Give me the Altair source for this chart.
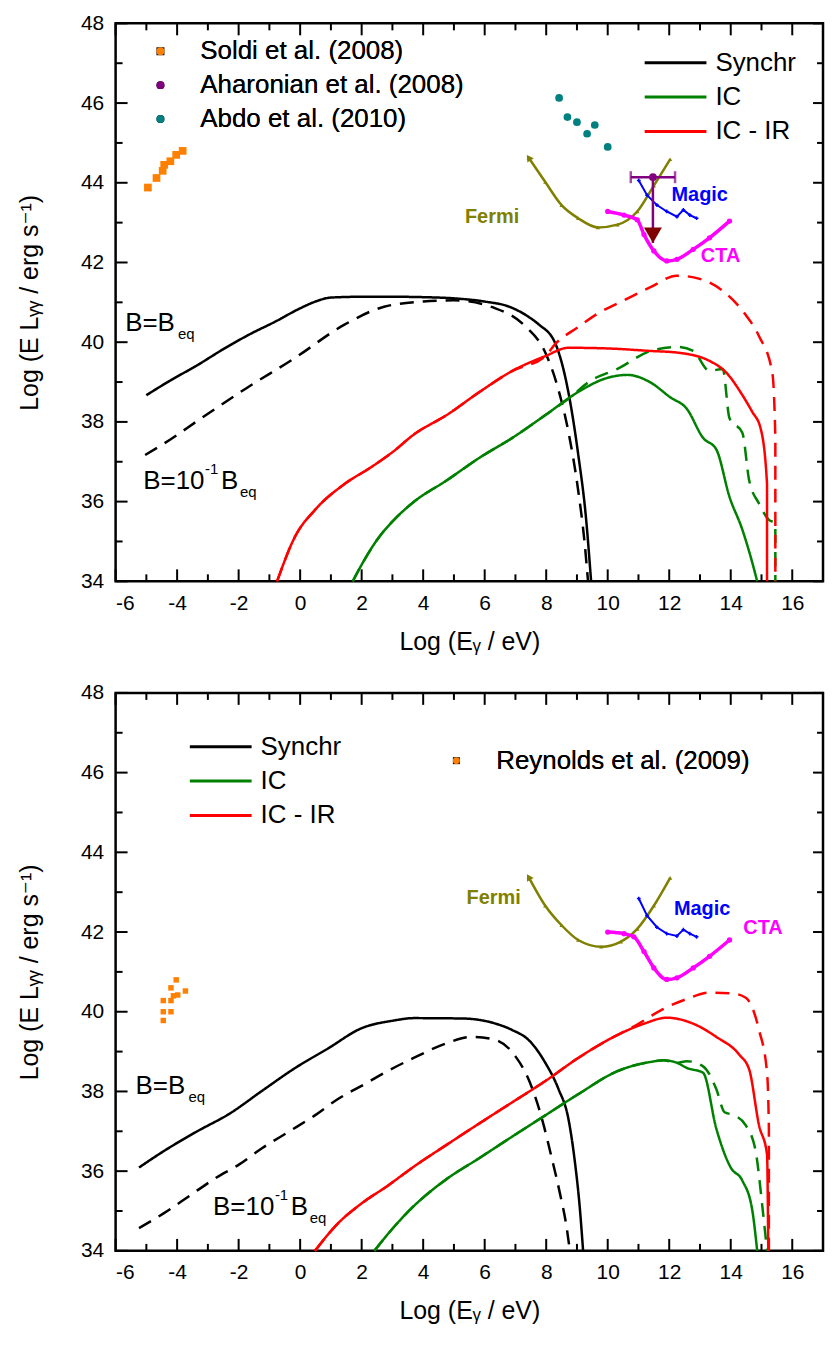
import math
import pandas as pd
import altair as alt

FONT = "Liberation Sans, Arial, DejaVu Sans, sans-serif"
W, H = 710, 560
XDOM = [-6, 17]
YDOM = [34, 48]

X_MAJOR = [-6, -4, -2, 0, 2, 4, 6, 8, 10, 12, 14, 16]
X_MINOR = [-5, -3, -1, 1, 3, 5, 7, 9, 11, 13, 15]
Y_MAJOR = [34, 36, 38, 40, 42, 44, 46, 48]
Y_MINOR = [35, 37, 39, 41, 43, 45, 47]

MODELS = ["Synchr", "IC", "IC - IR"]
MODEL_COLORS = ["#000000", "#008000", "#ff0000"]

# ---------------- top panel ----------------
T_SYN_EQ_X = [-5, -4.22, -3.37, -2.51, -1.66, -0.8, 0, 0.5, 1, 2, 3, 4, 5, 6, 6.8, 7.4, 7.75, 8.29, 8.72, 9.04, 9.30, 9.46]
T_SYN_EQ_Y = [38.67, 39.04, 39.41, 39.82, 40.19, 40.52, 40.85, 41.02, 41.12, 41.14, 41.14, 41.13, 41.1, 41.02, 40.89, 40.65, 40.45, 39.98, 38.75, 37.19, 35.54, 34.0]
T_SYN_01_X = [-5.04, -4.22, -3.37, -1.76, -0.16, 1.44, 2.73, 4.0, 5.0, 6.35, 7.32, 7.97, 8.39, 8.72, 9.04, 9.25, 9.36]
T_SYN_01_Y = [37.17, 37.56, 38.01, 38.84, 39.61, 40.44, 40.89, 41.02, 41.05, 40.85, 40.4, 39.74, 38.83, 37.76, 36.28, 34.96, 34.0]

T_IR_EQ_X = [-0.75, -0.16, 0.48, 1.44, 2.30, 3.05, 3.69, 4.76, 5.83, 6.90, 7.97, 8.72, 10.1, 11.39, 12.25, 13.31, 13.85, 14.38, 14.70, 14.97, 15.18, 15.18]
T_IR_EQ_Y = [34.0, 35.13, 35.79, 36.44, 36.86, 37.27, 37.68, 38.17, 38.75, 39.28, 39.65, 39.86, 39.84, 39.78, 39.74, 39.53, 39.24, 38.67, 38.25, 37.84, 36.44, 34.0]
T_IR_01_X = [-0.75, -0.16, 0.48, 1.44, 2.30, 3.05, 3.69, 4.76, 5.83, 6.90, 7.97, 8.29, 9.04, 9.68, 10.53, 11.39, 12.25, 12.99, 13.85, 14.49, 14.92, 15.35, 15.45, 15.45]
T_IR_01_Y = [34.0, 35.13, 35.79, 36.44, 36.86, 37.27, 37.68, 38.17, 38.75, 39.28, 39.65, 39.95, 40.38, 40.72, 41.05, 41.38, 41.67, 41.59, 41.22, 40.68, 40.15, 39.24, 37.6, 34.0]

T_IC_EQ_X = [1.71, 1.98, 2.51, 3.05, 3.69, 4.76, 5.83, 6.90, 7.97, 9.04, 9.89, 10.64, 11.39, 12.03, 12.57, 13.1, 13.53, 13.96, 14.38, 14.70, 14.86]
T_IC_EQ_Y = [34.0, 34.39, 35.05, 35.54, 35.99, 36.53, 37.1, 37.6, 38.17, 38.75, 39.08, 39.18, 38.99, 38.62, 38.33, 37.6, 37.31, 36.12, 35.29, 34.47, 34.0]
T_IC_01_X = [1.71, 1.98, 2.51, 3.05, 3.69, 4.76, 5.83, 6.90, 7.97, 8.72, 9.46, 10.32, 11.39, 12.25, 12.78, 13.31, 13.74, 13.96, 14.38, 14.6, 14.92, 15.24, 15.45, 15.45]
T_IC_01_Y = [34.0, 34.39, 35.05, 35.54, 35.99, 36.53, 37.1, 37.6, 38.17, 38.58, 39.04, 39.33, 39.78, 39.88, 39.78, 39.28, 39.33, 38.09, 37.72, 36.53, 35.95, 35.54, 35.46, 34.0]

T_FERMI_X = [7.43, 7.97, 8.5, 9.04, 9.68, 10.32, 10.96, 11.5, 12.03]
T_FERMI_Y = [44.63, 44.02, 43.44, 43.11, 42.88, 42.95, 43.28, 43.93, 44.59]
T_MAGIC_X = [11.01, 11.28, 11.6, 11.92, 12.25, 12.46, 12.67, 12.89]
T_MAGIC_Y = [44.06, 43.69, 43.44, 43.28, 43.15, 43.32, 43.19, 43.11]
T_CTA_X = [10.0, 10.53, 10.96, 11.18, 11.5, 11.92, 12.25, 12.78, 13.31, 13.96]
T_CTA_Y = [43.28, 43.19, 43.07, 42.7, 42.29, 42.04, 42.08, 42.33, 42.62, 43.04]

SOLDI_X = [-4.95, -4.67, -4.47, -4.42, -4.22, -4.03, -3.82]
SOLDI_Y = [43.88, 44.12, 44.3, 44.45, 44.54, 44.7, 44.8]
ABDO_X = [8.42, 8.69, 9.0, 9.33, 9.58, 10.0]
ABDO_Y = [46.13, 45.65, 45.52, 45.23, 45.45, 44.9]
AHA_X = [11.47]
AHA_Y = [44.14]
AHA_XLO = [10.75]
AHA_XHI = [12.19]
AHA_ULIM = [42.49]

# ---------------- bottom panel ----------------
B_SYN_EQ_X = [-5.24, -4.44, -3.37, -2.3, -1.23, -0.16, 0.91, 1.98, 3.05, 3.69, 5.29, 6.36, 6.9, 7.43, 7.97, 8.4, 8.72, 8.93, 9.09, 9.2]
B_SYN_EQ_Y = [36.09, 36.5, 36.99, 37.44, 38.02, 38.59, 39.08, 39.58, 39.78, 39.84, 39.83, 39.7, 39.54, 39.29, 38.72, 38.06, 37.32, 36.25, 35.1, 34.0]
B_SYN_01_X = [-5.24, -4.44, -3.58, -2.72, -1.98, -1.23, -0.37, 0.48, 1.23, 2.09, 2.84, 3.69, 4.76, 5.61, 6.36, 7.0, 7.43, 7.86, 8.18, 8.45, 8.66, 8.77]
B_SYN_01_Y = [34.57, 34.94, 35.39, 35.84, 36.17, 36.58, 36.99, 37.4, 37.81, 38.18, 38.51, 38.84, 39.21, 39.37, 39.29, 38.88, 38.3, 37.32, 36.33, 35.43, 34.61, 34.0]

B_IR_EQ_X = [0.48, 1.23, 1.98, 2.84, 3.69, 4.76, 5.83, 6.9, 7.97, 9.04, 10.1, 11.18, 11.92, 12.78, 13.53, 14.28, 14.6, 14.92, 15.18, 15.22]
B_IR_EQ_Y = [34.0, 34.69, 35.18, 35.63, 36.11, 36.66, 37.2, 37.73, 38.26, 38.84, 39.33, 39.7, 39.85, 39.7, 39.37, 38.92, 38.55, 37.15, 36.42, 34.0]
B_IR_01_X = [0.48, 1.23, 1.98, 2.84, 3.69, 4.76, 5.83, 6.9, 7.97, 9.04, 10.1, 10.96, 11.71, 12.57, 13.31, 14.06, 14.49, 14.92, 15.18, 15.24, 15.24]
B_IR_01_Y = [34.0, 34.69, 35.18, 35.63, 36.11, 36.66, 37.2, 37.73, 38.26, 38.84, 39.33, 39.68, 40.03, 40.32, 40.48, 40.46, 40.35, 39.54, 38.47, 37.07, 34.0]

B_IC_EQ_X = [2.41, 3.05, 3.69, 4.76, 5.83, 6.9, 7.97, 9.04, 10.32, 11.39, 11.82, 12.25, 12.57, 13.1, 13.53, 14.0, 14.38, 14.7, 14.86]
B_IC_EQ_Y = [34.0, 34.6, 35.12, 35.8, 36.33, 36.87, 37.4, 37.93, 38.51, 38.74, 38.78, 38.72, 38.59, 38.47, 37.07, 36.09, 35.76, 35.02, 34.0]
B_IC_01_X = [2.41, 3.05, 3.69, 4.76, 5.83, 6.9, 7.97, 9.04, 10.32, 11.39, 11.82, 12.25, 12.57, 13.1, 13.53, 13.8, 14.12, 14.49, 14.81, 15.03, 15.18]
B_IC_01_Y = [34.0, 34.6, 35.12, 35.8, 36.33, 36.87, 37.4, 37.93, 38.51, 38.74, 38.78, 38.72, 38.76, 38.63, 38.06, 37.48, 37.4, 37.15, 36.5, 35.1, 34.0]

B_FERMI_X = [7.43, 7.97, 8.5, 9.04, 9.79, 10.43, 10.96, 11.5, 12.03]
B_FERMI_Y = [43.38, 42.66, 42.17, 41.8, 41.63, 41.76, 42.08, 42.66, 43.36]
B_MAGIC_X = [11.01, 11.28, 11.6, 11.92, 12.25, 12.46, 12.67, 12.89]
B_MAGIC_Y = [42.84, 42.41, 42.12, 41.96, 41.9, 42.06, 41.96, 41.88]
B_CTA_X = [10.0, 10.53, 10.85, 11.18, 11.5, 11.92, 12.25, 12.78, 13.31, 13.96]
B_CTA_Y = [42.0, 41.96, 41.88, 41.51, 41.1, 40.81, 40.85, 41.1, 41.39, 41.8]

REYN_X = [-4.45, -4.45, -4.2, -4.45, -4.2, -4.2, -4.03, -4.12, -3.98, -3.73]
REYN_Y = [39.78, 40.0, 40.0, 40.28, 40.28, 40.6, 40.8, 40.4, 40.42, 40.52]

# ---------------- helpers ----------------
OLIVE, BLUE, MAGENTA = "#808000", "#0000ff", "#ff00ff"
PURPLE, MAROON = "#800080", "#800000"

xscale = alt.Scale(domain=XDOM, nice=False, zero=False)
yscale = alt.Scale(domain=YDOM, nice=False, zero=False)

AX_LAB = alt.Axis(values=X_MAJOR, labelExpr="'' + datum.value", ticks=False, tickSize=0, orient="bottom",
                  domain=False, grid=False, labelFontSize=21, labelFont=FONT, labelColor="black",
                  labelPadding=11, title="Log (Eᵧ / eV)", titleFont=FONT, titleFontSize=25,
                  titleFontWeight="normal", titleColor="black", titlePadding=16)
AY_LAB = alt.Axis(values=Y_MAJOR, labelExpr="'' + datum.value", ticks=False, tickSize=0, orient="left",
                  domain=False, grid=False, labelFontSize=21, labelFont=FONT, labelColor="black",
                  labelPadding=12, title="Log (E Lᵧᵧ / erg s⁻¹)", titleFont=FONT, titleFontSize=25,
                  titleFontWeight="normal", titleColor="black", titlePadding=38)


def X(field="x", axis=None):
    return alt.X(f"{field}:Q", scale=xscale, axis=axis)


def Y(field="y", axis=None):
    return alt.Y(f"{field}:Q", scale=yscale, axis=axis)


def series(xs, ys, **kw):
    d = pd.DataFrame({"x": xs, "y": ys, "i": list(range(len(xs)))})
    for k, v in kw.items():
        d[k] = v
    return d


def line_legend(lx, ly):
    return alt.Legend(title=None, orient="none", legendX=lx, legendY=ly,
                      symbolType="M-2,0L2,0", symbolSize=961, symbolStrokeWidth=3,
                      symbolOffset=14, labelOffset=23, labelFont=FONT, labelFontSize=26,
                      labelColor="black", labelLimit=400, rowPadding=4.5, padding=0)


def point_legend(lx, ly, size):
    return alt.Legend(title=None, orient="none", legendX=lx, legendY=ly, symbolSize=size,
                      labelOffset=27, labelFont=FONT, labelFontSize=26, labelColor="black",
                      labelLimit=400, rowPadding=8, padding=0, symbolOpacity=1,
                      symbolStrokeWidth=0)


def model_layer(parts, lx, ly):
    df = pd.concat([series(xs, ys, model=m, case=c) for xs, ys, m, c in parts], ignore_index=True)
    return alt.Chart(df).mark_line(strokeWidth=2.5, interpolate="monotone").encode(
        x=X(axis=AX_LAB), y=Y(axis=AY_LAB),
        color=alt.Color("model:N", scale=alt.Scale(domain=MODELS, range=MODEL_COLORS),
                        legend=line_legend(lx, ly)),
        strokeDash=alt.StrokeDash("case:N", scale=alt.Scale(domain=["eq", "tenth"],
                                  range=[[1, 0], [14, 9]]), legend=None),
        order=alt.Order("i:Q"),
    )


def arrow_angle(xs, ys):
    dxp = (xs[0] - xs[1]) * W / (XDOM[1] - XDOM[0])
    dyp = (ys[0] - ys[1]) * H / (YDOM[1] - YDOM[0])
    return math.degrees(math.atan2(dxp, dyp)) % 360


def sens_layers(fx, fy, mx, my, cx, cy):
    fdf, mdf, cdf = series(fx, fy), series(mx, my), series(cx, cy)
    return [
        alt.Chart(fdf).mark_line(color=OLIVE, strokeWidth=2.5, interpolate="monotone").encode(
            x=X(), y=Y(), order="i:Q"),
        alt.Chart(fdf).mark_point(shape="triangle-up", filled=True, color=OLIVE, size=18, opacity=1).encode(
            x=X(), y=Y()),
        alt.Chart(fdf.iloc[[0]]).mark_point(shape="triangle-up", filled=True, color=OLIVE, size=60, opacity=1,
                                             angle=arrow_angle(fx, fy)).encode(x=X(), y=Y()),
        alt.Chart(mdf).mark_line(color=BLUE, strokeWidth=2).encode(x=X(), y=Y(), order="i:Q"),
        alt.Chart(mdf).mark_point(shape="cross", filled=True, color=BLUE, size=14, opacity=1).encode(
            x=X(), y=Y()),
        alt.Chart(cdf).mark_line(color=MAGENTA, strokeWidth=3.5, interpolate="monotone").encode(
            x=X(), y=Y(), order="i:Q"),
        alt.Chart(cdf).mark_point(shape="circle", filled=True, color=MAGENTA, size=28, opacity=1).encode(
            x=X(), y=Y()),
    ]


def txt(x, y, s, size, color="black", weight="normal", dx=0, dy=0, align="left", baseline="alphabetic"):
    df = pd.DataFrame({"x": [x], "y": [y], "t": [s]})
    return alt.Chart(df).mark_text(font=FONT, fontSize=size, fontWeight=weight, color=color, dx=dx, dy=dy,
                                   align=align, baseline=baseline).encode(x=X(), y=Y(), text="t:N")


def b_labels(x1, y1, x2, y2):
    return [
        txt(x1, y1, "B=B", 26), txt(x1, y1, "eq", 15, dx=53, dy=8),
        txt(x2, y2, "B=10", 26), txt(x2, y2, "-1", 15, dx=62, dy=-15),
        txt(x2, y2, "B", 26, dx=78), txt(x2, y2, "eq", 15, dx=97, dy=8),
    ]


def inst_labels(f, m, c):
    return [
        txt(f[0], f[1], "Fermi", 20, OLIVE, "bold", align="center", baseline="middle"),
        txt(m[0], m[1], "Magic", 20, BLUE, "bold", align="center", baseline="middle"),
        txt(c[0], c[1], "CTA", 20, MAGENTA, "bold", align="center", baseline="middle"),
    ]


def tick_layers():
    # inward-pointing frame ticks, drawn as short segments at the tick values;
    # tick lengths (in px) are converted to data units of each scale
    ux = (XDOM[1] - XDOM[0]) / W
    uy = (YDOM[1] - YDOM[0]) / H
    out = []
    for vals, L in ((X_MAJOR, 12), (X_MINOR, 7)):
        d = pd.DataFrame({"x": vals})
        d["b0"], d["b1"] = YDOM[0], YDOM[0] + L * uy
        d["t0"], d["t1"] = YDOM[1] - L * uy, YDOM[1]
        out.append(alt.Chart(d).mark_rule(color="black", strokeWidth=2).encode(x=X(), y=Y("b0"), y2="b1"))
        out.append(alt.Chart(d).mark_rule(color="black", strokeWidth=2).encode(x=X(), y=Y("t0"), y2="t1"))
    for vals, L in ((Y_MAJOR, 12), (Y_MINOR, 7)):
        Lr = round(L * 0.85)
        d = pd.DataFrame({"y": vals})
        d["l0"], d["l1"] = XDOM[0], XDOM[0] + L * ux
        d["r0"], d["r1"] = XDOM[1] - Lr * ux, XDOM[1]
        out.append(alt.Chart(d).mark_rule(color="black", strokeWidth=2).encode(x=X("l0"), x2="l1", y=Y()))
        out.append(alt.Chart(d).mark_rule(color="black", strokeWidth=2).encode(x=X("r0"), x2="r1", y=Y()))
    return out


# ---------------- top panel ----------------
top_models = model_layer([
    (T_SYN_EQ_X, T_SYN_EQ_Y, "Synchr", "eq"), (T_SYN_01_X, T_SYN_01_Y, "Synchr", "tenth"),
    (T_IC_EQ_X, T_IC_EQ_Y, "IC", "eq"), (T_IC_01_X, T_IC_01_Y, "IC", "tenth"),
    (T_IR_EQ_X, T_IR_EQ_Y, "IC - IR", "eq"), (T_IR_01_X, T_IR_01_Y, "IC - IR", "tenth"),
], 531, 22.5)

TOP_SRC = ["Soldi et al. (2008)", "Aharonian et al. (2008)", "Abdo et al. (2010)"]
top_pts_df = pd.concat([
    series(SOLDI_X, SOLDI_Y, src=TOP_SRC[0]),
    series(AHA_X, AHA_Y, src=TOP_SRC[1]),
    series(ABDO_X, ABDO_Y, src=TOP_SRC[2]),
], ignore_index=True)
tleg = point_legend(32, 15, 64)
top_pts = alt.Chart(top_pts_df).mark_point(filled=True, opacity=1, size=60).encode(
    x=X(), y=Y(),
    color=alt.Color("src:N", scale=alt.Scale(domain=TOP_SRC, range=["#ff8000", PURPLE, "#008080"]), legend=tleg),
    shape=alt.Shape("src:N", scale=alt.Scale(domain=TOP_SRC, range=["square", "circle", "circle"]), legend=tleg),
)

aha_df = pd.DataFrame({"x": AHA_X, "y": AHA_Y, "xlo": AHA_XLO, "xhi": AHA_XHI, "ulim": AHA_ULIM})
caps_df = pd.DataFrame({"x": AHA_XLO + AHA_XHI, "y": AHA_Y * 2})
aha_layers = [
    alt.Chart(aha_df).mark_rule(color=PURPLE, strokeWidth=2.5).encode(x=X("xlo"), x2="xhi", y=Y()),
    alt.Chart(caps_df).mark_tick(orient="vertical", color=PURPLE, thickness=2.5, size=12).encode(x=X(), y=Y()),
    alt.Chart(aha_df).mark_rule(color=PURPLE, strokeWidth=2.5).encode(x=X(), y=Y(), y2="ulim"),
    alt.Chart(aha_df).mark_point(shape="triangle-down", filled=True, color=MAROON, size=324, opacity=1,
                                 yOffset=-7.8).encode(x=X(), y=Y("ulim")),
]

top = alt.layer(
    top_models,
    *sens_layers(T_FERMI_X, T_FERMI_Y, T_MAGIC_X, T_MAGIC_Y, T_CTA_X, T_CTA_Y),
    *inst_labels((6.24, 43.13), (12.99, 43.69), (13.67, 42.17)),
    *b_labels(-5.69, 40.27, -5.10, 36.32),
    *aha_layers,
    top_pts,
    *tick_layers(),
).resolve_scale(color="independent").resolve_axis(x="independent", y="independent").properties(width=W, height=H)

# ---------------- bottom panel ----------------
bot_models = model_layer([
    (B_SYN_EQ_X, B_SYN_EQ_Y, "Synchr", "eq"), (B_SYN_01_X, B_SYN_01_Y, "Synchr", "tenth"),
    (B_IC_EQ_X, B_IC_EQ_Y, "IC", "eq"), (B_IC_01_X, B_IC_01_Y, "IC", "tenth"),
    (B_IR_EQ_X, B_IR_EQ_Y, "IC - IR", "eq"), (B_IR_01_X, B_IR_01_Y, "IC - IR", "tenth"),
], 74.5, 37)

BOT_SRC = ["Reynolds et al. (2009)"]
bleg = point_legend(329, 55, 49)
bot_pts = alt.Chart(series(REYN_X, REYN_Y, src=BOT_SRC[0])).mark_point(filled=True, opacity=1, size=30).encode(
    x=X(), y=Y(),
    color=alt.Color("src:N", scale=alt.Scale(domain=BOT_SRC, range=["#ff8000"]), legend=bleg),
    shape=alt.Shape("src:N", scale=alt.Scale(domain=BOT_SRC, range=["square"]), legend=bleg),
)

bottom = alt.layer(
    bot_models,
    *sens_layers(B_FERMI_X, B_FERMI_Y, B_MAGIC_X, B_MAGIC_Y, B_CTA_X, B_CTA_Y),
    *inst_labels((6.29, 42.85), (13.07, 42.58), (15.05, 42.1)),
    *b_labels(-5.35, 37.94, -2.83, 34.89),
    bot_pts,
    *tick_layers(),
).resolve_scale(color="independent").resolve_axis(x="independent", y="independent").properties(width=W, height=H)

chart = alt.vconcat(top, bottom, spacing=24).resolve_scale(
    color="independent", shape="independent", strokeDash="independent"
).properties(
    padding={"left": 8, "top": 0, "right": 0, "bottom": 0},
    background="white",
).configure_view(stroke="black", strokeWidth=2.5)

chart.save("out.html", embed_options={"renderer": "svg", "actions": False})
